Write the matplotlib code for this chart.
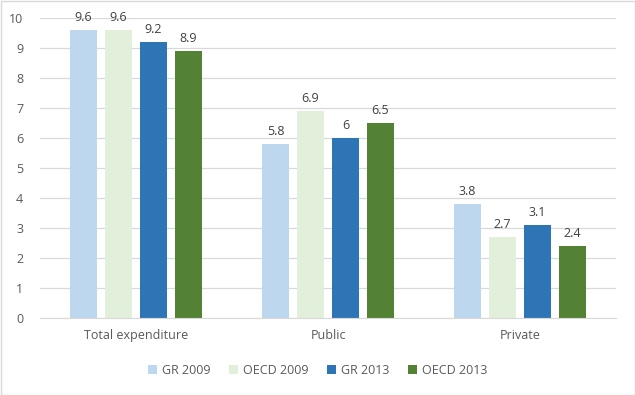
import matplotlib.pyplot as plt
import numpy as np

categories = ["Total expenditure", "Public", "Private"]
series = ["GR 2009", "OECD 2009", "GR 2013", "OECD 2013"]
gr_2009 = [9.6, 5.8, 3.8]
oecd_2009 = [9.6, 6.9, 2.7]
gr_2013 = [9.2, 6.0, 3.1]
oecd_2013 = [8.9, 6.5, 2.4]
labels = [["9.6", "5.8", "3.8"], ["9.6", "6.9", "2.7"],
          ["9.2", "6", "3.1"], ["8.9", "6.5", "2.4"]]

colors = ["#BDD7EE", "#E2EFDA", "#2E75B6", "#548235"]
txt = "#595959"

plt.rcParams['font.family'] = ['Open Sans', 'DejaVu Sans']

fig = plt.figure(figsize=(6.35, 3.95), dpi=100)
ax = fig.add_axes([40 / 635, 77 / 395, 576 / 635, 300 / 395])

x = np.arange(len(categories))
w = 0.142
step = 0.182
for i, vals in enumerate([gr_2009, oecd_2009, gr_2013, oecd_2013]):
    pos = x + (i - 1.5) * step
    ax.bar(pos, vals, w, color=colors[i], label=series[i], zorder=2)
    for p, v, lab in zip(pos, vals, labels[i]):
        ax.text(p, v + 0.2, lab, ha="center", va="bottom", fontsize=9, color="#404040")

ax.set_xlim(-0.5, 2.5)
ax.set_ylim(0, 10)
ax.set_yticks(range(0, 11))
ax.set_xticks(x)
ax.set_xticklabels(categories)
ax.yaxis.grid(True, color="#D9D9D9", linewidth=0.9, zorder=0)
for s in ["top", "right", "left"]:
    ax.spines[s].set_visible(False)
ax.spines["bottom"].set_color("#D9D9D9")
ax.tick_params(length=0, colors=txt, labelsize=9)
ax.tick_params(axis="x", pad=8)
ax.tick_params(axis="y", pad=12)

fig.legend(loc="center", bbox_to_anchor=(0.5, 1 - 370 / 395), ncol=4, frameon=False,
           fontsize=9, labelcolor=txt, handlelength=0.7, handleheight=0.7,
           handletextpad=0.4, columnspacing=1.5)

fig.patches.append(plt.Rectangle((0.5 / 635, 0.5 / 395), 1 - 1 / 635, 1 - 1 / 395,
                                 transform=fig.transFigure, fill=False,
                                 edgecolor="#D9D9D9", linewidth=1))

fig.savefig("out.png", dpi=100)
